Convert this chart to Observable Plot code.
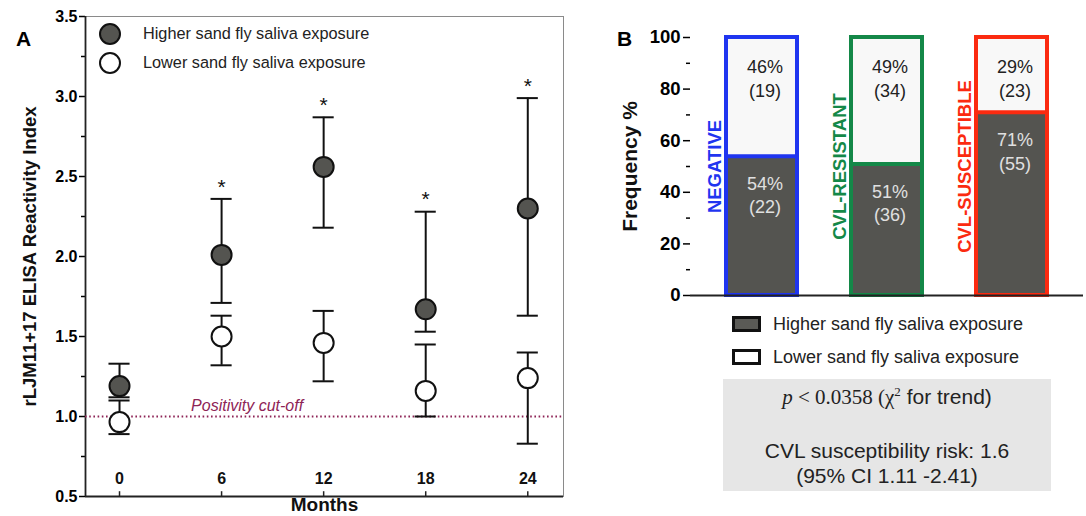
<!DOCTYPE html>
<html><head><meta charset="utf-8">
<script src="https://cdn.jsdelivr.net/npm/d3@7"></script>
<script src="https://cdn.jsdelivr.net/npm/@observablehq/plot@0.6"></script>
<style>
body{margin:0;background:#fff;font-family:"Liberation Sans",Arial,sans-serif;}
#root{position:relative;width:1086px;height:516px;overflow:hidden;background:#fff;}
.abs{position:absolute;}
</style></head><body><div id="root"></div>
<script>
// ---------- Panel A data ----------
const months = [0, 6, 12, 18, 24];
const higherMean = [1.19, 2.01, 2.56, 1.67, 2.30];
const higherLow  = [1.12, 1.71, 2.18, 1.53, 1.63];
const higherHigh = [1.33, 2.36, 2.87, 2.28, 2.99];
const lowerMean  = [0.965, 1.50, 1.46, 1.16, 1.24];
const lowerLow   = [0.89, 1.32, 1.22, 1.00, 0.83];
const lowerHigh  = [1.10, 1.63, 1.66, 1.45, 1.40];
const significant = [false, true, true, true, true];
const cutoffValue = 1.0;
const cutoffLabel = "Positivity cut-off";
const yTicksA = [0.5, 1.0, 1.5, 2.0, 2.5, 3.0, 3.5];
const yMinorA = [0.75, 1.25, 1.75, 2.25, 2.75, 3.25];
const seriesNames = ["Higher sand fly saliva exposure", "Lower sand fly saliva exposure"];

// ---------- Panel B data ----------
const categories = ["NEGATIVE", "CVL-RESISTANT", "CVL-SUSCEPTIBLE"];
const categoryColors = ["#1f35f0", "#148848", "#fb2a10"];
const higherPct = [54, 51, 71];
const higherN = [22, 36, 55];
const lowerPct = [46, 49, 29];
const lowerN = [19, 34, 23];
const yTicksB = [0, 20, 40, 60, 80, 100];
const yMinorB = [10, 30, 50, 70, 90];

const FONT = '"Liberation Sans", Arial, sans-serif';
const DARK = "#545450";

// ---------- Build panel A ----------
const rowsA = months.map((m, i) => ({
  m, hm: higherMean[i], hl: higherLow[i], hh: higherHigh[i],
  lm: lowerMean[i], ll: lowerLow[i], lh: lowerHigh[i], sig: significant[i]
}));
const capHalf = 0.62;

const plotA = Plot.plot({
  width: 570, height: 516,
  marginLeft: 85, marginRight: 7, marginTop: 16, marginBottom: 20,
  style: {fontFamily: FONT, background: "white", overflow: "visible"},
  x: {domain: [-2, 26.1], axis: null},
  y: {domain: [0.5, 3.5], axis: null},
  marks: [
    Plot.frame({stroke: "#8a8a8a", strokeWidth: 1}),
    Plot.axisY(yMinorA, {tickSize: 4, tickFormat: () => "", strokeWidth: 1.5}),
    Plot.axisY(yTicksA, {tickSize: 6, tickPadding: 2, tickFormat: d3.format(".1f"),
      fontSize: 16, fontWeight: "bold", strokeWidth: 1.5, label: null}),
    Plot.ruleX([-2], {stroke: "#222", strokeWidth: 1.8}),
    Plot.ruleY([0.5], {stroke: "#222", strokeWidth: 1.8}),
    Plot.ruleX(months, {x: d => d, y1: 0.5, y2: 0.53, stroke: "#222", strokeWidth: 1.5}),
    Plot.text(months, {x: d => d, frameAnchor: "bottom", dy: -13, text: d => String(d),
      fontSize: 16, fontWeight: "bold", fill: "#111"}),
    Plot.text(["Months"], {frameAnchor: "bottom", dy: 14, textAnchor: "middle", fontSize: 19, fontWeight: "bold", fill: "#111"}),
    Plot.text(["rLJM11+17 ELISA Reactivity Index"], {frameAnchor: "left", textAnchor: "middle", rotate: -90, dx: -55,
      fontSize: 18.5, fontWeight: "bold", fill: "#111"}),
    Plot.ruleY([cutoffValue], {stroke: "#8e2456", strokeWidth: 2, strokeDasharray: "1.6,2.6"}),
    Plot.text([cutoffLabel], {x: 7.5, y: cutoffValue, dy: -11, fontStyle: "italic", fontSize: 16, fill: "#8e2456"}),
    // error bars
    Plot.ruleX(rowsA, {x: "m", y1: "hl", y2: "hh", stroke: "#111", strokeWidth: 2}),
    Plot.ruleX(rowsA, {x: "m", y1: "ll", y2: "lh", stroke: "#111", strokeWidth: 2}),
    Plot.ruleY(rowsA, {y: "hh", x1: d => d.m - capHalf, x2: d => d.m + capHalf, stroke: "#111", strokeWidth: 2}),
    Plot.ruleY(rowsA, {y: "hl", x1: d => d.m - capHalf, x2: d => d.m + capHalf, stroke: "#111", strokeWidth: 2}),
    Plot.ruleY(rowsA, {y: "lh", x1: d => d.m - capHalf, x2: d => d.m + capHalf, stroke: "#111", strokeWidth: 2}),
    Plot.ruleY(rowsA, {y: "ll", x1: d => d.m - capHalf, x2: d => d.m + capHalf, stroke: "#111", strokeWidth: 2}),
    // means
    Plot.dot(rowsA, {x: "m", y: "lm", r: 10, fill: "white", stroke: "#111", strokeWidth: 2}),
    Plot.dot(rowsA, {x: "m", y: "hm", r: 10, fill: DARK, stroke: "#111", strokeWidth: 2}),
    // significance
    Plot.text(rowsA.filter(d => d.sig), {x: "m", y: "hh", dy: -12, text: () => "*", fontSize: 21, fill: "#111"})
  ]
});
plotA.classList.add("abs");
plotA.style.left = "0px"; plotA.style.top = "0px";

// ---------- Build panel B ----------
const rowsB = categories.map((c, i) => ({
  c, color: categoryColors[i], hp: higherPct[i], hn: higherN[i], lp: lowerPct[i], ln: lowerN[i],
  total: higherPct[i] + lowerPct[i]
}));

const plotB = Plot.plot({
  width: 486, height: 300,
  marginLeft: 90, marginRight: 3, marginTop: 37, marginBottom: 5,
  style: {fontFamily: FONT, background: "white", overflow: "visible"},
  x: {domain: categories, axis: null, paddingInner: 0.434, paddingOuter: 0.283},
  y: {domain: [0, 100], axis: null},
  color: {domain: categories, range: categoryColors},
  marks: [
    Plot.axisY(yMinorB, {tickSize: 4, tickFormat: () => "", strokeWidth: 1.5}),
    Plot.axisY(yTicksB, {tickSize: 7, tickPadding: 3, fontSize: 18.5, fontWeight: "bold", strokeWidth: 1.5, label: null}),
    Plot.text(["Frequency %"], {frameAnchor: "left", textAnchor: "middle", rotate: -90, dx: -60, fontSize: 21, fontWeight: "bold", fill: "#111"}),
    Plot.barY(rowsB, {x: "c", y1: "hp", y2: "total", fill: "#f8f8f8"}),
    Plot.barY(rowsB, {x: "c", y: "hp", fill: DARK}),
    Plot.tickY(rowsB, {x: "c", y: "hp", stroke: "c", strokeWidth: 4}),
    Plot.barY(rowsB, {x: "c", y: "total", fill: "none", stroke: "c", strokeWidth: 4}),
    Plot.ruleX([0], {frameAnchor: "left", stroke: "#222", strokeWidth: 1.8}),
    Plot.ruleY([0], {stroke: "#222", strokeWidth: 1.8}),
    Plot.text(rowsB, {x: "c", y: "total", dy: 40, dx: 3, text: d => `${d.lp}%\n(${d.ln})`,
      lineHeight: 1.3, fontSize: 18, fill: "#222"}),
    Plot.text(rowsB, {x: "c", y: "hp", dy: 38, dx: 3, text: d => `${d.hp}%\n(${d.hn})`,
      lineHeight: 1.3, fontSize: 18, fill: "#e0e0e0"}),
    Plot.text(rowsB, {x: "c", y: 50, dx: -47, rotate: -90, text: "c", fill: "c", fontSize: 18.5, fontWeight: "bold"})
  ]
});
plotB.classList.add("abs");
plotB.style.left = "600px"; plotB.style.top = "0px";

const root = document.getElementById("root");
root.appendChild(plotA);
root.appendChild(plotB);

function add(html, css) {
  const d = document.createElement("div");
  d.className = "abs";
  d.innerHTML = html;
  Object.assign(d.style, css);
  root.appendChild(d);
  return d;
}
// panel letters
add("A", {left: "16px", top: "27px", fontWeight: "bold", fontSize: "21px"});
add("B", {left: "617px", top: "27px", fontWeight: "bold", fontSize: "21px"});

// Panel A legend
const circ = (fill) => `<svg width="24" height="24" style="display:block"><circle cx="12" cy="12" r="10" fill="${fill}" stroke="#111" stroke-width="2"/></svg>`;
add(circ(DARK), {left: "98px", top: "22px"});
add(circ("white"), {left: "98px", top: "51px"});
add(seriesNames[0], {left: "143px", top: "24px", fontSize: "16.3px", color: "#222", whiteSpace: "nowrap"});
add(seriesNames[1], {left: "143px", top: "53px", fontSize: "16.3px", color: "#222", whiteSpace: "nowrap"});

// Panel B legend
const box = (fill) => `<svg width="30" height="18" style="display:block"><rect x="1.5" y="1.5" width="26" height="13" fill="${fill}" stroke="#111" stroke-width="3"/></svg>`;
add(box("#5a5a56"), {left: "732px", top: "316px"});
add(box("white"), {left: "732px", top: "349px"});
add(seriesNames[0], {left: "773px", top: "314px", fontSize: "18px", color: "#222", whiteSpace: "nowrap"});
add(seriesNames[1], {left: "773px", top: "347px", fontSize: "18px", color: "#222", whiteSpace: "nowrap"});

// stats box
add(`<div style="font-size:21px;line-height:25px;color:#222;text-align:center;padding-top:5px">
<span style="font-family:'Liberation Serif','Times New Roman',serif"><i>p</i> &lt; 0.0358 (χ<sup style="font-size:13px;line-height:0">2</sup></span> for trend)<br>
<div style="height:28px"></div>
CVL susceptibility risk: 1.6<br>(95% CI 1.11 -2.41)</div>`,
  {left: "723px", top: "379px", width: "328px", height: "112px", background: "#e6e6e6"});
</script></body></html>
